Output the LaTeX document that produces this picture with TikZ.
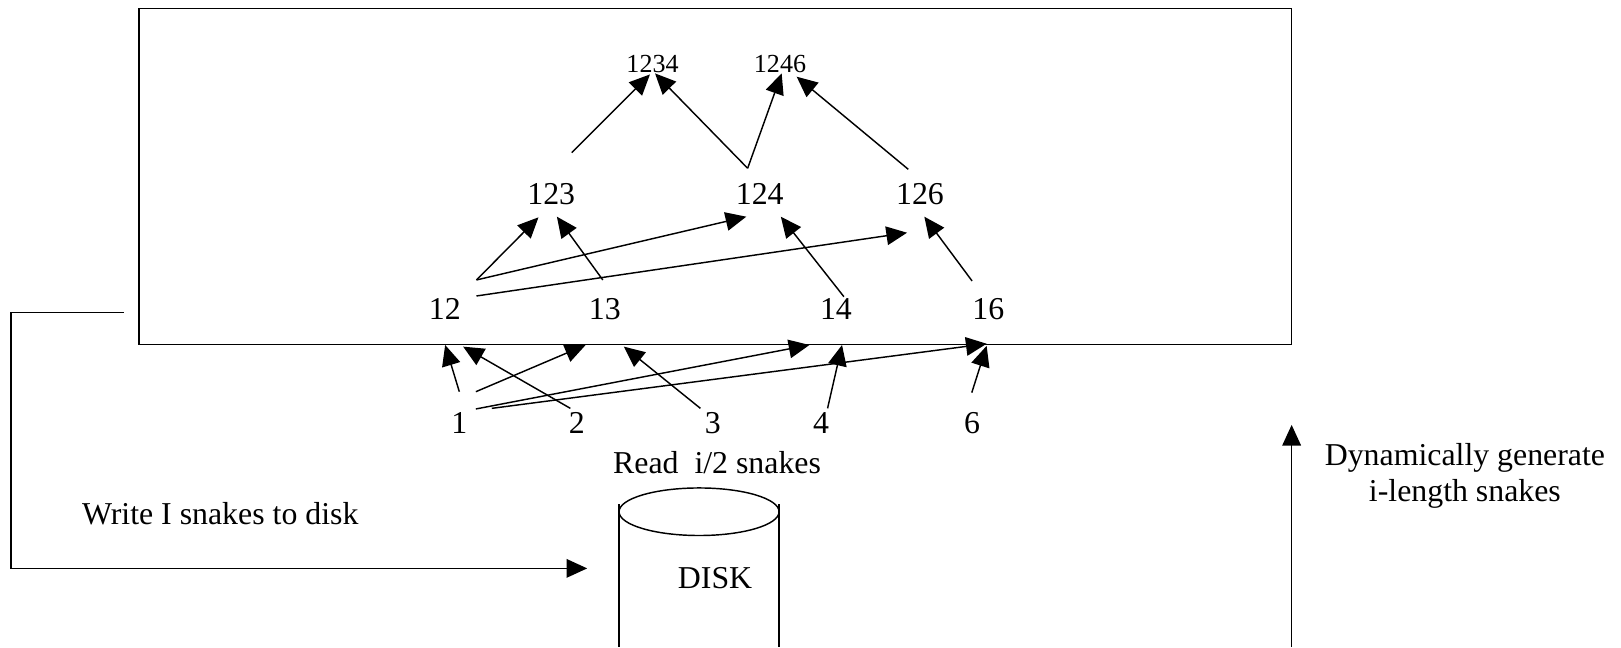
\documentclass[tikz,border=0pt]{standalone}
\usepackage{fontspec}
\setmainfont{Liberation Serif}
\usetikzlibrary{arrows.meta}
\tikzset{
  lbl/.style={font=\fontsize{15.4}{18}\selectfont, inner sep=0pt, anchor=base},
  toplbl/.style={font=\fontsize{12.6}{15}\selectfont, inner sep=0pt, anchor=base},
  line/.style={line width=0.7pt},
  arr/.style={line width=0.7pt, -{Triangle[length=10pt,width=9pt]}},
}
\begin{document}
\begin{tikzpicture}[x=0.5pt,y=-0.5pt]
\useasboundingbox (0,0) rectangle (1568,626);
% main frame
\draw[line] (134.6,8) rectangle (1249,333);
% labels
\node[toplbl] (n1234) at (631.2,70.3) {1234};
\node[toplbl] (n1246) at (754.5,70.3) {1246};
\node[lbl] (n123) at (533.2,197.7) {123};
\node[lbl] (n124) at (734.9,197.7) {124};
\node[lbl] (n126) at (889.9,197.7) {126};
\node[lbl] (n12) at (430.3,309.5) {12};
\node[lbl] (n13) at (585,309.5) {13};
\node[lbl] (n14) at (808.6,309.5) {14};
\node[lbl] (n16) at (956,309.5) {16};
\node[lbl] (n1) at (444.3,419.8) {1};
\node[lbl] (n2) at (558,419.8) {2};
\node[lbl] (n3) at (689.4,419.8) {3};
\node[lbl] (n4) at (794.2,419.8) {4};
\node[lbl] (n6) at (940.3,419.8) {6};
\node[lbl,anchor=base west] (read) at (592.7,457.8) {Read\ \ i/2 snakes};
\node[lbl,anchor=base west] (write) at (79,507.2) {Write I snakes to disk};
\node[lbl] (disk) at (691.7,569) {DISK};
\node[lbl] (dyn1) at (1417,449.8) {Dynamically generate};
\node[lbl] (dyn2) at (1417,485.3) {i-length snakes};
% arrow end points
\coordinate (a1s) at (553,147.7);   \coordinate (a1t) at (628.7,72);
\coordinate (a2s) at (723.2,162.8); \coordinate (a2t) at (633.6,71);
\coordinate (a3t) at (756.1,71);
\coordinate (a4s) at (878.6,163.8); \coordinate (a4t) at (770.6,74.2);
\coordinate (b1s) at (460.9,270.8); \coordinate (b1t) at (520.9,210.2);
\coordinate (b2t) at (721.9,209.6);
\coordinate (b3s) at (460.9,286.3); \coordinate (b3t) at (877.4,225.1);
\coordinate (b4s) at (583.1,270.8); \coordinate (b4t) at (538.7,209.6);
\coordinate (b5s) at (816.3,287);   \coordinate (b5t) at (755.3,209.6);
\coordinate (b6s) at (940.3,271.8); \coordinate (b6t) at (894.1,209.6);
\coordinate (c1s) at (444.3,378.9); \coordinate (c1t) at (430.6,333.7);
\coordinate (c2s) at (551.7,395);   \coordinate (c2t) at (448,335.3);
\coordinate (c3s) at (460.3,378.9); \coordinate (c3t) at (566.5,333.7);
\coordinate (c4s) at (677.5,395);   \coordinate (c4t) at (603.5,335.3);
\coordinate (c5s) at (460.3,395.6); \coordinate (c5t) at (783,333.7);
\coordinate (c6s) at (475.7,395);   \coordinate (c6t) at (954.4,332.5);
\coordinate (c7s) at (800.5,395);   \coordinate (c7t) at (814.5,333.7);
\coordinate (c8s) at (940,379.8);   \coordinate (c8t) at (954.4,334.5);
% top level arrows
\draw[arr] (a1s) -- (a1t);
\draw[arr] (a2s) -- (a2t);
\draw[arr] (a2s) -- (a3t);
\draw[arr] (a4s) -- (a4t);
% middle arrows
\draw[arr] (b1s) -- (b1t);
\draw[arr] (b1s) -- (b2t);
\draw[arr] (b3s) -- (b3t);
\draw[arr] (b4s) -- (b4t);
\draw[arr] (b5s) -- (b5t);
\draw[arr] (b6s) -- (b6t);
% bottom arrows
\draw[arr] (c1s) -- (c1t);
\draw[arr] (c2s) -- (c2t);
\draw[arr] (c3s) -- (c3t);
\draw[arr] (c4s) -- (c4t);
\draw[arr] (c5s) -- (c5t);
\draw[arr] (c6s) -- (c6t);
\draw[arr] (c7s) -- (c7t);
\draw[arr] (c8s) -- (c8t);
% write loop
\coordinate (w0) at (119.7,302.5);
\coordinate (w1) at (10.7,302.5);
\coordinate (w2) at (10.7,549.8);
\coordinate (w3) at (568,549.8);
\draw[arr] (w0) -- (w1) -- (w2) -- (w3);
% dynamic arrow
\coordinate (d0) at (1249.4,626);
\coordinate (d1) at (1249.4,411);
\draw[arr] (d0) -- (d1);
% disk cylinder
\draw[line] (676.2,495) ellipse [x radius=77.4, y radius=23];
\draw[line] (598.8,488) -- (598.8,626);
\draw[line] (753.6,488) -- (753.6,626);
\end{tikzpicture}
\end{document}
